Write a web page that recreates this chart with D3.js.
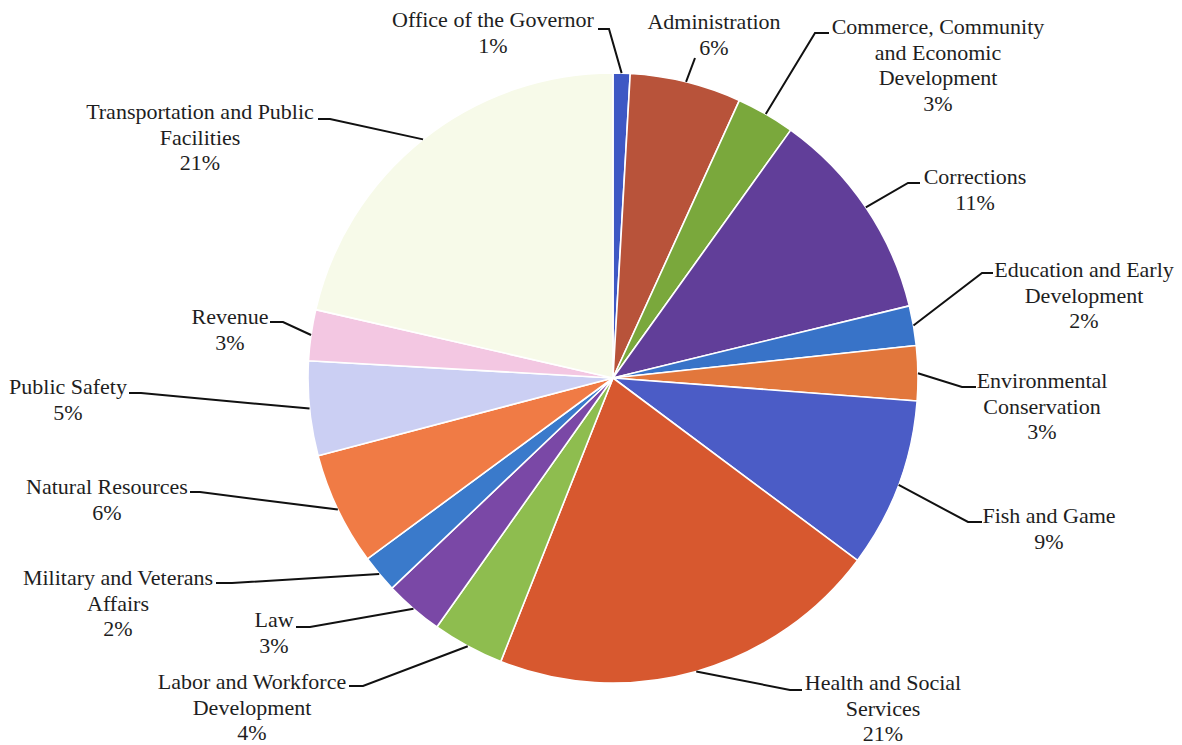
<!DOCTYPE html>
<html>
<head>
<meta charset="utf-8">
<script src="https://cdn.jsdelivr.net/npm/d3@7/dist/d3.min.js"></script>
<style>
  html, body { margin: 0; padding: 0; background: #ffffff; }
  svg { display: block; }
</style>
</head>
<body>
<svg id="chart" width="1182" height="745"></svg>
<script>
// Department shares of the budget, clockwise from 12 o'clock (percent)
const departments = [
  ["Office of the Governor"],
  ["Administration"],
  ["Commerce, Community", "and Economic", "Development"],
  ["Corrections"],
  ["Education and Early", "Development"],
  ["Environmental", "Conservation"],
  ["Fish and Game"],
  ["Health and Social", "Services"],
  ["Labor and Workforce", "Development"],
  ["Law"],
  ["Military and Veterans", "Affairs"],
  ["Natural Resources"],
  ["Public Safety"],
  ["Revenue"],
  ["Transportation and Public", "Facilities"]
];
const shares = [0.9, 5.9, 3.1, 11.3, 2.1, 2.9, 9.0, 20.8, 3.8, 3.1, 2.0, 6.0, 5.0, 2.7, 21.4];
const sliceColors = [
  "#3e58c4", "#b8533a", "#7aa83c", "#613e99", "#3873c8", "#e2773c", "#4b5cc6",
  "#d7582f", "#8ebd4f", "#7a48a6", "#3a7acb", "#f07b45", "#cbcff3", "#f3c7e2", "#f7fae9"
];

// Label placement: centre x of the text block, first baseline, and the
// elbow / end points of each leader line.
const labelLayout = [
  { cx: 493, y: 27,  elbow: [609, 29],  end: [598, 29] },
  { cx: 714, y: 29,  elbow: [695, 58],  end: [695, 58] },
  { cx: 938, y: 34,  elbow: [815, 33],  end: [829, 33] },
  { cx: 975, y: 184, elbow: [908, 183], end: [920, 183] },
  { cx: 1084, y: 277, elbow: [982, 273], end: [993, 273] },
  { cx: 1042, y: 388, elbow: [962, 387], end: [976, 387] },
  { cx: 1049, y: 523, elbow: [968, 522], end: [982, 522] },
  { cx: 883, y: 690, elbow: [790, 690], end: [802, 690] },
  { cx: 252, y: 689, elbow: [363, 686], end: [349, 686] },
  { cx: 274, y: 627, elbow: [310, 627], end: [296, 627] },
  { cx: 118, y: 585, elbow: [232, 583], end: [216, 583] },
  { cx: 107, y: 494, elbow: [200, 492], end: [190, 492] },
  { cx: 68,  y: 394, elbow: [141, 393], end: [129, 393] },
  { cx: 230, y: 324, elbow: [283, 322], end: [270, 322] },
  { cx: 200, y: 119, elbow: [330, 119], end: [318, 119] }
];

const cx = 613, cy = 378, radius = 305, lineHeight = 25.5;
const labelFont = "'Liberation Serif', 'Times New Roman', Times, 'DejaVu Serif', serif";

const data = departments.map((name, i) => ({ name, value: shares[i], color: sliceColors[i], layout: labelLayout[i] }));

const svg = d3.select("#chart");
const g = svg.append("g").attr("transform", `translate(${cx},${cy})`);

const pie = d3.pie().value(d => d.value).sort(null);
const arc = d3.arc().innerRadius(0).outerRadius(radius);
const arcs = pie(data);

g.selectAll("path.slice")
  .data(arcs)
  .join("path")
  .attr("class", "slice")
  .attr("d", arc)
  .attr("fill", d => d.data.color)
  .attr("stroke", "#ffffff")
  .attr("stroke-width", 1.6)
  .attr("stroke-linejoin", "round");

// Leader lines from the middle of each slice's outer edge to its label
const edgePoint = d => {
  const a = (d.startAngle + d.endAngle) / 2;
  return [cx + radius * Math.sin(a), cy - radius * Math.cos(a)];
};
svg.selectAll("polyline.leader")
  .data(arcs)
  .join("polyline")
  .attr("class", "leader")
  .attr("points", d => [edgePoint(d), d.data.layout.elbow, d.data.layout.end].map(p => p.join(",")).join(" "))
  .attr("fill", "none")
  .attr("stroke", "#111")
  .attr("stroke-width", 2);

const pct = d3.format(".0f");
const labels = svg.selectAll("text.label")
  .data(arcs)
  .join("text")
  .attr("class", "label")
  .attr("font-family", labelFont)
  .attr("font-size", 22)
  .attr("fill", "#1e1e1e")
  .attr("text-anchor", "middle")
  .attr("x", d => d.data.layout.cx)
  .attr("y", d => d.data.layout.y);

labels.each(function(d) {
  const lines = d.data.name.concat([pct(d.data.value) + "%"]);
  d3.select(this).selectAll("tspan")
    .data(lines)
    .join("tspan")
    .attr("x", d.data.layout.cx)
    .attr("dy", (t, i) => i === 0 ? 0 : lineHeight)
    .text(t => t);
});
</script>
</body>
</html>
